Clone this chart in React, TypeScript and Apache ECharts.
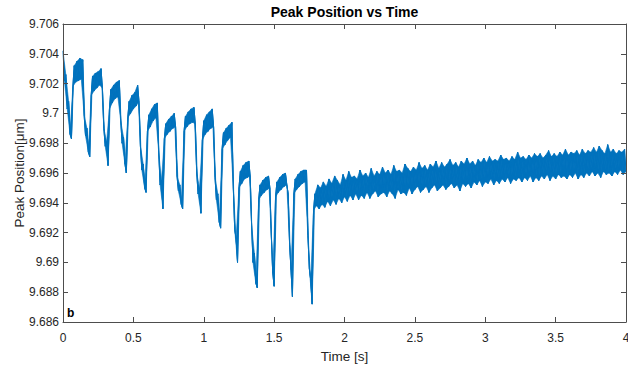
import React, { useEffect, useRef } from "react";
import * as echarts from "echarts";

// Sampling time base of the recorded signal (s)
const sampleStep = 0.01;

// Phase 1: repeated drop / recovery cycles, t = 0.00 … 1.77 s
const oscillationStart = 0;
const oscillationPhase = [
  // cycle 0
  9.7042, 9.7022, 9.7026, 9.7003, 9.7008, 9.6986, 9.6983,
  // cycle 1
  9.7018, 9.7032, 9.7021, 9.7035, 9.7022, 9.7037, 9.7023, 9.7036, 9.6999, 9.6985, 9.699, 9.6974, 9.6971,
  // cycle 2
  9.7012, 9.7025, 9.7015, 9.7027, 9.7017, 9.7028, 9.7019, 9.703, 9.7017, 9.699, 9.6978, 9.6981, 9.6965,
  // cycle 3
  9.7003, 9.7016, 9.7007, 9.7019, 9.701, 9.7021, 9.7011, 9.7022, 9.6995, 9.698, 9.6984, 9.6966, 9.696,
  // cycle 4
  9.6997, 9.7008, 9.7, 9.7012, 9.7003, 9.7014, 9.7005, 9.7019, 9.7008, 9.6978, 9.6962, 9.6966, 9.695, 9.6947,
  // cycle 5
  9.6988, 9.6999, 9.6991, 9.7003, 9.6995, 9.7006, 9.6997, 9.7007, 9.6974, 9.6952, 9.6955, 9.6936,
  // cycle 6
  9.6983, 9.6993, 9.6986, 9.6996, 9.6988, 9.6998, 9.699, 9.7, 9.6991, 9.6958, 9.6948, 9.6952, 9.6939, 9.6936,
  // cycle 7
  9.6988, 9.6998, 9.6991, 9.7001, 9.6993, 9.7003, 9.6994, 9.7004, 9.6993, 9.696, 9.6946, 9.695, 9.6933,
  // cycle 8
  9.6982, 9.6995, 9.6986, 9.6999, 9.6988, 9.7001, 9.699, 9.7003, 9.6991, 9.6957, 9.6942, 9.6946, 9.6927, 9.6923,
  // cycle 9
  9.6976, 9.6987, 9.6979, 9.699, 9.6982, 9.6992, 9.6984, 9.6994, 9.695, 9.6922, 9.6916, 9.69,
  // cycle 10
  9.695, 9.6961, 9.6953, 9.6965, 9.6956, 9.6967, 9.6957, 9.6968, 9.6958, 9.6925, 9.69, 9.6906, 9.6886, 9.6883,
  // cycle 11
  9.6942, 9.6952, 9.6945, 9.6955, 9.6947, 9.6957, 9.6949, 9.6958, 9.695, 9.6918, 9.6893, 9.6884,
  // cycle 12
  9.6944, 9.6954, 9.6947, 9.6957, 9.6949, 9.6959, 9.6951, 9.696, 9.6952, 9.6946, 9.6912, 9.6895, 9.6877,
  // cycle 13
  9.6946, 9.6956, 9.6949, 9.6959, 9.6951, 9.6961, 9.6953, 9.6962, 9.6954, 9.6962, 9.6918, 9.6896, 9.6888, 9.6872,
];

// Phase 2: slow drift after the last drop, t = 1.78 … 4.00 s
const recoveryStart = 1.78;
const recoveryPhase = [
  9.6935, 9.6946, 9.6938, 9.6952, 9.6936, 9.695, 9.6939, 9.6954, 9.6937, 9.6951,
  9.6941, 9.6956, 9.6938, 9.6953, 9.6942, 9.6958, 9.6939, 9.6955, 9.6943, 9.6952,
  9.694, 9.6959, 9.6944, 9.6955, 9.6941, 9.6961, 9.6945, 9.6957, 9.6942, 9.6958,
  9.6946, 9.6956, 9.6942, 9.6962, 9.6945, 9.6958, 9.6943, 9.696, 9.6947, 9.6957,
  9.6943, 9.6963, 9.6946, 9.6958, 9.6948, 9.6961, 9.6944, 9.6959, 9.6946, 9.6964,
  9.6947, 9.696, 9.6944, 9.6962, 9.6948, 9.6959, 9.6946, 9.6965, 9.6943, 9.6961,
  9.6949, 9.6962, 9.6946, 9.696, 9.6947, 9.6966, 9.6945, 9.6963, 9.695, 9.6961,
  9.6946, 9.6964, 9.6949, 9.6962, 9.6951, 9.6967, 9.6947, 9.6963, 9.6949, 9.6965,
  9.6951, 9.6962, 9.6947, 9.6966, 9.695, 9.6964, 9.6952, 9.6968, 9.6948, 9.6963,
  9.695, 9.6967, 9.6952, 9.6964, 9.6949, 9.6966, 9.6951, 9.6969, 9.6953, 9.6965,
  9.695, 9.6967, 9.6952, 9.6964, 9.6948, 9.6968, 9.6953, 9.6966, 9.6951, 9.697,
  9.6953, 9.6966, 9.695, 9.6968, 9.6954, 9.6965, 9.6952, 9.6969, 9.6955, 9.6967,
  9.6951, 9.697, 9.6954, 9.6967, 9.6953, 9.6971, 9.6956, 9.6968, 9.6952, 9.6969,
  9.6955, 9.6968, 9.6953, 9.6972, 9.6956, 9.6969, 9.6954, 9.697, 9.6957, 9.6968,
  9.6953, 9.6971, 9.6956, 9.6969, 9.6955, 9.6974, 9.6957, 9.697, 9.6954, 9.6971,
  9.6957, 9.6969, 9.6955, 9.6972, 9.6958, 9.697, 9.6954, 9.6973, 9.6957, 9.6971,
  9.6955, 9.6973, 9.6958, 9.697, 9.6956, 9.6972, 9.6959, 9.6975, 9.6955, 9.6971,
  9.6958, 9.6973, 9.6956, 9.6971, 9.6959, 9.6974, 9.6957, 9.6972, 9.6958, 9.6976,
  9.6956, 9.6972, 9.6959, 9.6974, 9.6957, 9.6973, 9.696, 9.6975, 9.6956, 9.6972,
  9.6959, 9.6976, 9.6957, 9.6973, 9.696, 9.6975, 9.6958, 9.6974, 9.6961, 9.6977,
  9.6958, 9.6974, 9.696, 9.6978, 9.6957, 9.6975, 9.6961, 9.6973, 9.6959, 9.6979,
  9.696, 9.6974, 9.6958, 9.6976, 9.6961, 9.6973, 9.6959, 9.6975, 9.6962, 9.6974,
  9.6959, 9.6976, 9.6961,
];

const xRange = [0, 4];
const xStep = 0.5;
const yRange = [9.686, 9.706];
const yStep = 0.002;

const titleText = "Peak Position vs Time";
const xName = "Time [s]";
const yName = "Peak Position[\u03bcm]";
const panelTag = "b";

const FONT = "'Liberation Sans', Arial, Helvetica, sans-serif";
const AXIS_COLOR = "#4d4d4d";
const TEXT_COLOR = "#262626";
const LINE_COLOR = "#0072BD";

function toPairs(start: number, values: number[]) {
  return values.map((v, i) => [Math.round((start + i * sampleStep) * 1000) / 1000, v]);
}

const fmt = (v: number) => String(parseFloat(v.toFixed(3)));

export default function App() {
  const ref = useRef<HTMLDivElement>(null);

  useEffect(() => {
    if (!ref.current) return;
    const chart = echarts.init(ref.current, undefined, { renderer: "svg" });
    const data = toPairs(oscillationStart, oscillationPhase).concat(toPairs(recoveryStart, recoveryPhase));
    // consecutive sample triples: the noisy trace is filled between its zig-zags
    const triples = data.slice(0, -2).map((p, i) => [
      p[0], p[1], data[i + 1][0], data[i + 1][1], data[i + 2][0], data[i + 2][1],
    ]);

    const grid = { left: 63, right: 2, top: 24, bottom: 45, containLabel: false, outerBoundsMode: "none" };
    const plotCenterX = grid.left + (628 - grid.left - grid.right) / 2;

    const baseX = {
      type: "value" as const,
      min: xRange[0],
      max: xRange[1],
      interval: xStep,
      z: 10,
      splitLine: { show: false },
      axisLine: { show: true, onZero: false, lineStyle: { color: AXIS_COLOR, width: 1 } },
      axisTick: { show: true, inside: true, length: 5, lineStyle: { color: AXIS_COLOR } },
    };
    const baseY = {
      type: "value" as const,
      min: yRange[0],
      max: yRange[1],
      interval: yStep,
      z: 10,
      splitLine: { show: false },
      axisLine: { show: true, onZero: false, lineStyle: { color: AXIS_COLOR, width: 1 } },
      axisTick: { show: true, inside: true, length: 5, lineStyle: { color: AXIS_COLOR } },
    };

    chart.setOption({
      animation: false,
      textStyle: { fontFamily: FONT },
      grid,
      xAxis: [
        {
          ...baseX,
          position: "bottom",
          name: xName,
          nameLocation: "middle",
          nameGap: 27,
          nameMoveOverlap: false,
          nameTextStyle: { fontFamily: FONT, fontSize: 13.5, color: TEXT_COLOR },
          axisLabel: { fontFamily: FONT, fontSize: 12, color: TEXT_COLOR, margin: 10, formatter: fmt },
        },
        { ...baseX, position: "top", axisLabel: { show: false } },
      ],
      yAxis: [
        {
          ...baseY,
          position: "left",
          name: yName,
          nameLocation: "middle",
          nameGap: 37,
          nameMoveOverlap: false,
          nameTextStyle: { fontFamily: FONT, fontSize: 13.5, color: TEXT_COLOR },
          axisLabel: { fontFamily: FONT, fontSize: 12, color: TEXT_COLOR, margin: 4, formatter: fmt },
        },
        { ...baseY, position: "right", axisLabel: { show: false } },
      ],
      series: [
        {
          type: "custom",
          xAxisIndex: 0,
          yAxisIndex: 0,
          silent: true,
          clip: true,
          data: triples,
          encode: { x: [0, 2, 4], y: [1, 3, 5] },
          renderItem: (_params: any, api: any) => {
            const a = api.coord([api.value(0), api.value(1)]);
            const b = api.coord([api.value(2), api.value(3)]);
            const c = api.coord([api.value(4), api.value(5)]);
            return {
              type: "polygon",
              shape: { points: [a, b, c] },
              style: { fill: LINE_COLOR, stroke: LINE_COLOR, lineWidth: 0.6 },
            };
          },
        },
        {
          type: "line",
          data,
          xAxisIndex: 0,
          yAxisIndex: 0,
          showSymbol: false,
          symbol: "none",
          lineStyle: { color: LINE_COLOR, width: 1 },
          itemStyle: { color: LINE_COLOR },
        },
      ],
      graphic: [
        {
          type: "text",
          x: plotCenterX,
          y: 5,
          style: {
            text: titleText,
            fontFamily: FONT,
            fontSize: 14,
            fontWeight: "bold",
            fill: "#000",
            textAlign: "center",
            textVerticalAlign: "top",
          },
        },
        {
          type: "text",
          x: 67,
          y: 313,
          style: {
            text: panelTag,
            fontFamily: FONT,
            fontSize: 12,
            fontWeight: "bold",
            fill: "#000",
            textAlign: "left",
            textVerticalAlign: "middle",
          },
        },
      ],
    });

    return () => chart.dispose();
  }, []);

  return (
    <div
      ref={ref}
      style={{ position: "fixed", left: 0, top: 0, width: 628, height: 367, background: "#fff" }}
    />
  );
}
